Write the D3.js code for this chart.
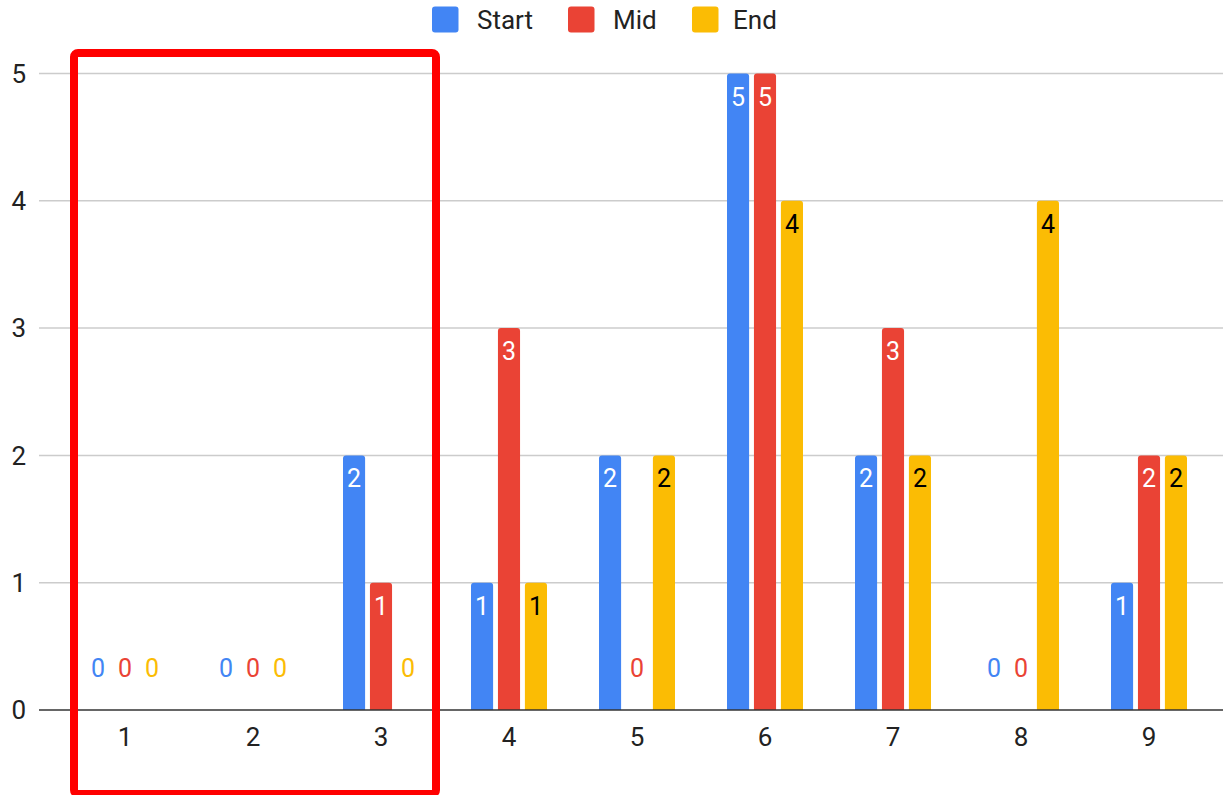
<!DOCTYPE html>
<html><head><meta charset="utf-8">
<script src="https://cdn.jsdelivr.net/npm/d3@7"></script>
<style>body{margin:0;background:#fff;}svg{display:block;font-family:Roboto,Arial,sans-serif;}</style>
</head><body>
<svg id="c" width="1223" height="795"></svg>
<script>
const categories = ["1","2","3","4","5","6","7","8","9"];
const seriesNames = ["Start","Mid","End"];
const startValues = [0,0,2,1,2,5,2,0,1];
const midValues = [0,0,1,3,0,5,3,0,2];
const endValues = [0,0,0,1,2,4,2,4,2];
const yTicks = [0,1,2,3,4,5];
const colors = ["#4285F4","#EA4335","#FBBC04"];
const labelColors = ["#fff","#fff","#000"];

const series = [startValues, midValues, endValues];
const svg = d3.select("#c");
const W = 1223, H = 795;
const x = d3.scaleBand().domain(categories).range([61,1213]);
const xs = d3.scaleBand().domain(seriesNames).range([-38,38]).paddingInner(0.18);
const y = d3.scaleLinear().domain([0,5]).range([710,73.5]);

// gridlines
svg.append("g").selectAll("line").data(yTicks.filter(d=>d>0)).join("line")
  .attr("x1",39).attr("x2",W).attr("y1",d=>y(d)).attr("y2",d=>y(d))
  .attr("stroke","#cccccc").attr("stroke-width",1.5);

// y labels
svg.append("g").selectAll("text").data(yTicks).join("text")
  .attr("x",26).attr("y",d=>y(d)).attr("dy","0.36em").attr("text-anchor","end")
  .attr("font-size",26).attr("fill","#222").text(d=>d);

// bars
const rows = [];
categories.forEach((c,i)=>series.forEach((s,j)=>rows.push({c,j,v:s[i]})));
const bw = xs.bandwidth();
svg.append("g").selectAll("path").data(rows.filter(d=>d.v>0)).join("path")
  .attr("d",d=>{
    const x0 = x(d.c)+x.bandwidth()/2+xs(seriesNames[d.j]);
    const y0 = y(d.v), y1 = y(0), r=3;
    return `M${x0},${y1}V${y0+r}Q${x0},${y0} ${x0+r},${y0}H${x0+bw-r}Q${x0+bw},${y0} ${x0+bw},${y0+r}V${y1}Z`;
  })
  .attr("fill",d=>colors[d.j]);

// baseline
svg.append("line").attr("x1",39).attr("x2",W).attr("y1",y(0)).attr("y2",y(0))
  .attr("stroke","#333").attr("stroke-width",1.5);

// value labels
svg.append("g").selectAll("text").data(rows).join("text")
  .attr("x",d=>x(d.c)+x.bandwidth()/2+xs(seriesNames[d.j])+bw/2)
  .attr("y",d=>d.v>0 ? y(d.v)+32 : y(0)-33)
  .attr("text-anchor","middle").attr("font-size",25)
  .attr("fill",d=>d.v>0 ? labelColors[d.j] : colors[d.j])
  .text(d=>d.v);

// x labels
svg.append("g").selectAll("text").data(categories).join("text")
  .attr("x",d=>x(d)+x.bandwidth()/2).attr("y",746).attr("text-anchor","middle")
  .attr("font-size",26).attr("fill","#222").text(d=>d);

// legend
const legX = [432,568,692];
const lg = svg.append("g").selectAll("g").data(seriesNames).join("g")
  .attr("transform",(d,i)=>`translate(${legX[i]},0)`);
lg.append("rect").attr("x",0).attr("y",6.5).attr("width",26.5).attr("height",26).attr("rx",3)
  .attr("fill",(d,i)=>colors[i]);
lg.append("text").attr("x",(d,i)=>[45,45,41][i]).attr("y",28.5).attr("font-size",26).attr("fill","#222").text(d=>d);

// red highlight box
svg.append("rect").attr("x",74).attr("y",53).attr("width",362).attr("height",741).attr("rx",4)
  .attr("fill","none").attr("stroke","#ff0000").attr("stroke-width",8);
</script>
</body></html>
